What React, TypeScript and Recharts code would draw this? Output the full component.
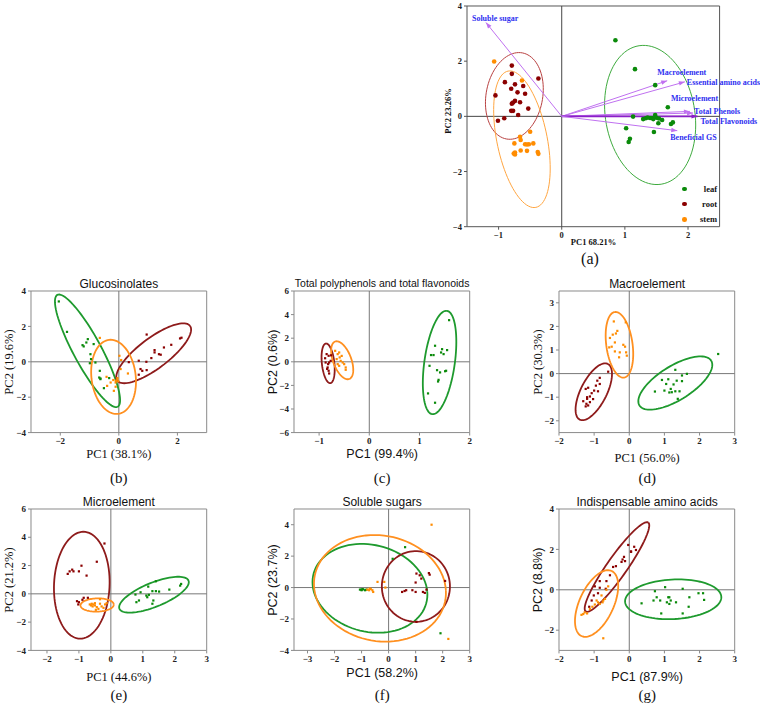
import React from "react";
import { ScatterChart, Scatter, XAxis, YAxis, ReferenceLine, ReferenceArea } from "recharts";

type Pt = [number, number];
// ellipse: [cx, cy, ux, uy, vx, vy] -> centre plus two conjugate semi-axes (data units)
type Ell = [number, number, number, number, number, number];

// ---------- (a) biplot ----------
const aLeaf: Pt[] = [[0.85, 2.76], [1.16, 1.71], [1.48, 1.13], [1.68, 0.33], [1.13, -0.01], [1.29, -0.1], [1.33, -0.07], [1.4, -0.06], [1.43, -0.06], [1.48, 0.05], [1.5, -0.05], [1.54, -0.08], [1.59, -0.13], [1.53, -0.25], [1.73, -0.28], [1.76, -0.22], [1.02, -0.43], [1.46, -0.57], [1.08, -0.81], [1.06, -0.93], [1.36, -0.04], [1.45, -0.1]];
const aRoot: Pt[] = [[-0.79, 1.84], [-0.79, 1.54], [-0.9, 1.24], [-0.74, 1.16], [-0.61, 1.1], [-0.8, 1.0], [-0.7, 0.87], [-0.58, 0.82], [-0.37, 1.37], [-1.05, 0.76], [-0.74, 0.56], [-0.77, 0.5], [-0.79, 0.46], [-0.66, 0.51], [-0.53, 0.28], [-0.8, 0.2], [-0.77, 0.2], [-0.69, 0.05], [-0.91, -0.07], [-1.01, -0.16]];
const aStem: Pt[] = [[-1.07, 1.99], [-0.63, 1.3], [-0.5, -0.56], [-0.66, -0.74], [-0.65, -0.86], [-0.75, -0.98], [-0.58, -1.01], [-0.55, -1.02], [-0.52, -1.01], [-0.45, -0.98], [-0.65, -1.24], [-0.55, -1.25], [-0.74, -1.31], [-0.76, -1.35], [-0.74, -1.38], [-0.38, -1.29], [-0.37, -1.36]];
const aEllipses: Ell[] = [[1.4, 0.05, -0.175, 2.51, 0.7, 0.25], [-0.75, 0.74, 0.127, 1.56, 0.44, -0.19], [-0.63, -0.83, 0.22, -2.47, 0.39, 0.18]];
const aLoadingNames = ["Soluble sugar", "Macroelement", "Essential amino acids", "Microelement", "Total Phenols", "Total Flavonoids", "Beneficial GS"];
const aLoadings: Pt[] = [[-1.2, 3.4], [1.67, 1.29], [1.95, 1.25], [2.03, 0.18], [2.08, 0.12], [2.15, 0.0], [1.83, -0.52]];
const groupNames = ["leaf", "root", "stem"];

// ---------- (b) Glucosinolates ----------
const bLeaf: Pt[] = [[-2.05, 3.41], [-1.77, 1.69], [-1.24, 0.94], [-1.2, 0.87], [-1.06, 1.28], [-1.11, 1.09], [-0.86, 1.0], [-0.97, 0.43], [-0.95, 0.15], [-0.8, -0.04], [-0.99, -0.08], [-0.65, -0.51], [-0.67, -0.89], [-0.63, -0.98], [-0.33, -0.92], [-0.63, -0.94], [-0.51, -1.49]];
const bRoot: Pt[] = [[0.95, 1.54], [2.14, 1.36], [2.09, 1.32], [1.54, 0.81], [1.79, 0.96], [1.22, 0.66], [1.22, 0.53], [1.37, 0.43], [1.43, 0.4], [1.11, 0.21], [0.68, 0.06], [0.94, 0], [0.74, -0.41], [0.8, -0.51], [0.95, -0.47], [0.68, -0.73], [0.34, -0.02]];
const bStem: Pt[] = [[-0.65, 1.35], [0.02, 0.34], [0.08, 0.1], [-0.05, -0.92], [-0.1, -1.07], [-0.19, -1.03], [-0.11, -1.17], [-0.05, -1.0], [0.31, -0.66], [-0.28, -1.17], [-0.4, -1.36], [-0.11, -1.41], [-0.17, -1.64], [-0.42, -0.85], [0.06, -0.41], [-0.02, -1.1]];
const bEllipses: Ell[] = [[-1.07, 0.62, 1.03, -3.16, 0.42, 0.37], [1.19, 0.48, 1.24, 1.55, 0.31, -0.68], [-0.18, -0.85, 0.154, -2.09, 0.75, 0.15]];

// ---------- (c) Total polyphenols and total flavonoids ----------
const cLeaf: Pt[] = [[1.59, 3.53], [1.31, 1.36], [1.23, 0.57], [1.28, 0.57], [1.45, 1.07], [1.43, 0.79], [1.48, 0.65], [1.55, 0.99], [1.2, -0.34], [1.35, -0.71], [1.41, -0.9], [1.53, -0.76], [1.51, -0.8], [1.38, -1.53], [1.37, -1.67], [1.17, -2.68], [1.31, -3.47]];
const cRoot: Pt[] = [[-0.85, 0.65], [-0.81, 0.51], [-0.87, -0.06], [-0.8, -0.06], [-0.77, 0.08], [-0.83, -0.48], [-0.81, -0.76], [-0.8, -0.99], [-0.84, -0.6], [-0.88, 0.3], [-0.76, 0.55], [-0.82, -0.2]];
const cStem: Pt[] = [[-0.68, 0.93], [-0.63, 0.65], [-0.6, 0.79], [-0.65, 0.23], [-0.59, 0.37], [-0.57, 0.08], [-0.53, -0.06], [-0.5, -0.2], [-0.47, -0.48], [-0.47, -0.68], [-0.6, -0.34], [-0.63, -0.2], [-0.55, 0.5]];
const cEllipses: Ell[] = [[1.4, -0.06, 0.146, 4.38, 0.3, -0.18], [-0.82, -0.13, -0.04, 1.68, 0.125, 0.01], [-0.54, 0.13, -0.14, 1.59, 0.17, 0.26]];

// ---------- (d) Macroelement ----------
const dLeaf: Pt[] = [[2.53, 0.83], [1.31, 0.16], [1.64, -0.01], [1.5, -0.08], [0.93, -0.27], [1.11, -0.24], [1.35, -0.3], [1.5, -0.32], [1.05, -0.44], [1.26, -0.46], [1.0, -0.72], [1.18, -0.65], [1.21, -0.79], [1.31, -0.75], [1.43, -0.75], [0.73, -0.76], [1.14, -0.8], [1.38, -1.07]];
const dRoot: Pt[] = [[-0.6, 0.08], [-0.84, -0.18], [-0.91, -0.3], [-1.24, -0.65], [-1.17, -0.6], [-0.95, -0.51], [-0.84, -0.44], [-1.07, -0.83], [-1.0, -0.72], [-0.89, -0.75], [-1.2, -1.0], [-1.2, -1.07], [-1.12, -0.97], [-1.03, -1.08], [-1.12, -1.21], [-1.22, -1.28], [-1.17, -1.35], [-1.24, -1.39], [-1.31, -1.17]];
const dStem: Pt[] = [[-0.44, 2.21], [-0.34, 1.81], [-0.38, 1.7], [-0.47, 1.65], [-0.1, 2.17], [-0.55, 1.51], [-0.41, 1.32], [-0.57, 1.11], [-0.5, 1.14], [-0.17, 1.22], [-0.12, 1.14], [-0.41, 0.94], [-0.27, 0.9], [-0.09, 0.9], [-0.07, 0.76], [-0.29, 0.69]];
const dEllipses: Ell[] = [[1.31, -0.4, 1.02, 0.95, 0.26, -0.61], [-1.01, -0.77, 0.4, 1.18, 0.33, -0.245], [-0.28, 1.22, -0.13, 1.39, 0.37, 0.075]];

// ---------- (e) Microelement ----------
const eLeaf: Pt[] = [[1.41, 0.89], [1.17, 0.51], [2.2, 0.7], [2.17, 0.58], [1.83, 0.3], [1.51, 0.16], [1.41, 0.19], [1.3, 0.19], [1.11, -0.12], [1.19, -0.07], [1.14, -0.24], [0.77, -0.05], [0.88, -0.47], [0.8, -0.59], [1.33, -0.47], [1.3, -0.7], [0.93, 0.11]];
const eRoot: Pt[] = [[-0.2, 3.56], [-0.44, 2.27], [-0.92, 1.99], [-1.21, 1.71], [-1.17, 1.59], [-1.29, 1.59], [-1.35, 1.41], [-1.0, 1.59], [-0.76, 1.29], [-1.06, -0.52], [-1.0, -0.59], [-1.02, -0.75], [-0.89, -0.42], [-0.85, -0.28], [-0.72, -0.28]];
const eStem: Pt[] = [[-0.6, -0.7], [-0.55, -0.75], [-0.5, -0.82], [-0.57, -0.89], [-0.44, -0.94], [-0.34, -0.7], [-0.29, -0.89], [-0.23, -0.99], [-0.39, -1.06], [-0.47, -1.13], [-0.18, -0.75], [-0.66, -0.75], [-0.13, -0.66], [-0.34, -0.38], [-0.5, -0.66], [-0.62, -0.82]];
const eEllipses: Ell[] = [[1.35, -0.06, 1.08, 1.0, 0.15, -0.78], [-0.91, 0.61, 0.05, 3.78, 0.87, 0], [-0.43, -0.79, 0.52, 0.03, 0, 0.47]];

// ---------- (f) Soluble sugars ----------
const fLeaf: Pt[] = [[0.61, 2.57], [0.15, 1.83], [1.92, -2.91], [-1.06, -0.13], [-1.0, -0.13], [-0.94, -0.11], [-0.87, -0.17], [-0.82, -0.13], [-1.0, -0.17], [-0.97, -0.1]];
const fRoot: Pt[] = [[1.03, 0.89], [1.15, 0.78], [1.49, 0.92], [1.52, 0.82], [1.21, 0.57], [2.09, 0.42], [1.0, 0.32], [0.5, -0.28], [0.59, -0.22], [0.65, -0.17], [0.88, -0.17], [1.0, -0.28], [1.27, -0.28], [1.34, -0.34], [1.4, -0.13], [1.03, -2.18]];
const fStem: Pt[] = [[1.59, 4.0], [2.21, -3.27], [-0.41, 0.36], [-0.16, 0.36], [-0.6, -0.17], [-0.66, -0.09], [-0.72, -0.17], [-0.79, -0.13], [-0.57, -0.28], [-0.7, -0.07], [-0.12, 0.0]];
const fEllipses: Ell[] = [[-0.69, -0.05, 2.12, -0.2, -0.15, 2.82], [1.01, 0.07, 1.26, 0, 0, 2.25], [-0.32, -0.05, 2.44, -0.15, -0.1, 3.39]];

// ---------- (g) Indispensable amino acids ----------
const gLeaf: Pt[] = [[0.73, -0.07], [1.02, 0.13], [1.52, 0.05], [1.97, -0.17], [2.1, -0.17], [2.13, -0.5], [0.78, -0.37], [0.69, -0.53], [0.35, -0.67], [0.88, -0.53], [1.11, -0.37], [1.18, -0.53], [1.33, -0.62], [1.07, -0.62], [1.14, -0.7], [1.71, -0.37], [1.69, -0.84], [0.91, -1.17], [1.52, -1.17], [1.14, -0.37]];
const gRoot: Pt[] = [[0.14, 2.13], [0.19, 1.97], [0.05, 1.88], [-0.03, 2.22], [-0.15, 1.63], [-0.19, 1.5], [-0.12, 1.42], [-0.22, 1.38], [-0.38, 1.17], [-0.46, 1.13], [-0.55, 0.72], [-0.65, 0.43], [-0.84, 0.43], [-0.98, 0.17], [-0.84, 0.1], [-0.67, 0.05], [-1.01, -0.28], [-0.89, -0.17], [-1.07, -0.53], [-1.14, -0.84], [0.05, 1.9]];
const gStem: Pt[] = [[-1.27, -1.12], [-1.31, -1.2], [-1.2, -1.17], [-1.36, -1.24], [-1.12, -0.95], [-1.05, -0.84], [-0.98, -0.73], [-0.93, -0.53], [-0.89, -0.62], [-0.84, -0.7], [-0.76, -0.62], [-0.74, -0.53], [-0.69, -0.45], [-0.65, 0.0], [-0.6, 0.17], [-0.79, -0.28], [-0.74, -2.4]];
const gEllipses: Ell[] = [[1.25, -0.47, 1.37, 0.1, 0, 0.98], [-0.35, 1.13, 0.89, 2.2, 0.23, -0.29], [-0.93, -0.68, 0.43, 1.61, 0.44, -0.36]];

// ---------- styles ----------
const SERIF = "'Liberation Serif', 'Times New Roman', serif";
const SANS = "'Liberation Sans', Arial, sans-serif";
const dotColors = ["#0A8A0A", "#8B0000", "#FF8C00"];
const ringColors = ["#1E9A2E", "#8E1B1B", "#FF9020"];
const ringColorsA = ["#3DAA3D", "#B84040", "#FFA540"];
const loadingColors = ["#C070F0", "#C070F0", "#C070F0", "#C070F0", "#C070F0", "#8A1FC8", "#C070F0"];
// label offsets relative to arrow tips, in pixels
const loadingLabelOffsets: Pt[] = [[-14, -4], [-10, -9], [2, 0.5], [-19, -13], [1, -2], [3, 5], [-7, 7]];

const toXY = (pts: Pt[]) => pts.map(([x, y]) => ({ x, y }));
const fmt = (v: number) => (v < 0 ? `\u2212${Math.abs(v)}` : `${v}`);

const ellipseOutline = (e: Ell) => {
  const out: { x: number; y: number }[] = [];
  for (let i = 0; i <= 90; i++) {
    const t = (i / 90) * Math.PI * 2;
    out.push({ x: e[0] + e[2] * Math.cos(t) + e[4] * Math.sin(t), y: e[1] + e[3] * Math.cos(t) + e[5] * Math.sin(t) });
  }
  return out;
};

type PanelCfg = {
  plot: [number, number, number, number];
  xDomain: [number, number];
  yDomain: [number, number];
  xTicks: number[];
  yTicks: number[];
  minor?: number[];
  groups: Pt[][];
  ellipses: Ell[];
  big?: boolean;
  rightPad?: number;
};

const Txt = ({ x, y, size, family, bold, rotate, color, children }: any) => (
  <div
    style={{
      position: "absolute",
      left: x,
      top: y,
      transform: `translate(-50%, -50%)${rotate ? " rotate(-90deg)" : ""}`,
      fontSize: size,
      fontFamily: family,
      fontWeight: bold ? "bold" : "normal",
      whiteSpace: "nowrap",
      lineHeight: 1,
      color: color || "#111",
    }}
  >
    {children}
  </div>
);

const AXW = 28;
const AXH = 22;
const TOP = 4;

const Panel = ({ cfg, children }: { cfg: PanelCfg; children?: React.ReactNode }) => {
  const [l, t, r, b] = cfg.plot;
  const right = cfg.rightPad ?? 6;
  const width = r - l + AXW + right;
  const height = b - t + TOP + AXH;
  const frame = cfg.big ? "#555" : "#8a8a8a";
  const tickStyle = { fontSize: cfg.big ? 8.5 : 9, fontFamily: SERIF, fontWeight: "bold", fill: "#222" };
  return (
    <div style={{ position: "absolute", left: l - AXW, top: t - TOP }}>
      <ScatterChart width={width} height={height} margin={{ top: TOP, right, left: 0, bottom: 0 }}>
        <XAxis type="number" dataKey="x" domain={cfg.xDomain} ticks={cfg.xTicks} interval={0} height={AXH} axisLine={false} tickLine={{ stroke: frame }} tickSize={3} tick={tickStyle} tickFormatter={fmt} />
        <YAxis type="number" dataKey="y" domain={cfg.yDomain} ticks={cfg.yTicks} interval={0} width={AXW} axisLine={false} tickLine={{ stroke: frame }} tickSize={3} tick={tickStyle} tickFormatter={fmt} />
        {cfg.minor && (
          <YAxis yAxisId="r" orientation="right" type="number" domain={cfg.yDomain} ticks={cfg.minor} interval={0} width={0} mirror axisLine={false} tickLine={{ stroke: frame }} tickSize={3} tick={() => <g />} />
        )}
        <ReferenceArea x1={cfg.xDomain[0]} x2={cfg.xDomain[1]} y1={cfg.yDomain[0]} y2={cfg.yDomain[1]} fill="none" stroke={frame} strokeWidth={1} />
        <ReferenceLine x={0} stroke={cfg.big ? "#444" : "#777"} strokeWidth={1} />
        <ReferenceLine y={0} stroke={cfg.big ? "#444" : "#777"} strokeWidth={1} />
        {cfg.ellipses.map((e, i) => (
          <Scatter
            key={`e${i}`}
            data={ellipseOutline(e)}
            line={{ stroke: cfg.big ? ringColorsA[i] : ringColors[i], strokeWidth: cfg.big ? 1 : 1.8 }}
            shape={() => <g />}
            fill="none"
            legendType="none"
            isAnimationActive={false}
          />
        ))}
        {children}
        {cfg.groups.map((g, i) => (
          <Scatter
            key={`g${i}`}
            name={groupNames[i]}
            data={toXY(g)}
            fill={dotColors[i]}
            isAnimationActive={false}
            shape={(p: any) =>
              cfg.big ? (
                <circle cx={p.cx} cy={p.cy} r={2.3} fill={dotColors[i]} />
              ) : (
                <rect x={p.cx - 1.1} y={p.cy - 1.1} width={2.2} height={2.2} fill={dotColors[i]} />
              )
            }
          />
        ))}
      </ScatterChart>
    </div>
  );
};

const cfgA: PanelCfg = { plot: [466.7, 6, 719.3, 226.7], xDomain: [-1.5, 2.5], yDomain: [-4, 4], xTicks: [-1, 0, 1, 2], yTicks: [-4, -2, 0, 2, 4], groups: [aLeaf, aRoot, aStem], ellipses: aEllipses, big: true, rightPad: 40.7 };
const cfgB: PanelCfg = { plot: [31, 290.7, 206.7, 432.3], xDomain: [-3, 3], yDomain: [-4, 4], xTicks: [-2, 0, 2], yTicks: [-4, -2, 0, 2, 4], minor: [-3, -2, -1, 0, 1, 2, 3], groups: [bLeaf, bRoot, bStem], ellipses: bEllipses };
const cfgC: PanelCfg = { plot: [294.3, 290.7, 470, 432.3], xDomain: [-1.5, 2], yDomain: [-6, 6], xTicks: [-1, 0, 1, 2], yTicks: [-6, -4, -2, 0, 2, 4, 6], minor: [-5, -4, -3, -2, -1, 0, 1, 2, 3, 4, 5], groups: [cLeaf, cRoot, cStem], ellipses: cEllipses };
const cfgD: PanelCfg = { plot: [559.3, 290.7, 735, 432.3], xDomain: [-2, 3], yDomain: [-2.5, 3.5], xTicks: [-2, -1, 0, 1, 2, 3], yTicks: [-2, -1, 0, 1, 2, 3], minor: [-2, -1.5, -1, -0.5, 0, 0.5, 1, 1.5, 2, 2.5, 3], groups: [dLeaf, dRoot, dStem], ellipses: dEllipses };
const cfgE: PanelCfg = { plot: [31, 509.3, 206.7, 650.7], xDomain: [-2.5, 3], yDomain: [-4, 6], xTicks: [-2, -1, 0, 1, 2, 3], yTicks: [-4, -2, 0, 2, 4, 6], minor: [-3, -2, -1, 0, 1, 2, 3, 4, 5], groups: [eLeaf, eRoot, eStem], ellipses: eEllipses };
const cfgF: PanelCfg = { plot: [294.3, 509.3, 470, 650.7], xDomain: [-3.5, 3], yDomain: [-4, 5], xTicks: [-3, -2, -1, 0, 1, 2, 3], yTicks: [-4, -2, 0, 2, 4], minor: [-3, -2, -1, 0, 1, 2, 3, 4], groups: [fLeaf, fRoot, fStem], ellipses: fEllipses };
const cfgG: PanelCfg = { plot: [559.3, 509.3, 735, 650.7], xDomain: [-2, 3], yDomain: [-3, 4], xTicks: [-2, -1, 0, 1, 2, 3], yTicks: [-2, 0, 2, 4], minor: [-2, -1, 0, 1, 2, 3], groups: [gLeaf, gRoot, gStem], ellipses: gEllipses };

// pixels per unit in (a), used to orient arrow heads
const aSx = (cfgA.plot[2] - cfgA.plot[0]) / (cfgA.xDomain[1] - cfgA.xDomain[0]);
const aSy = (cfgA.plot[3] - cfgA.plot[1]) / (cfgA.yDomain[1] - cfgA.yDomain[0]);

const arrowTip = (i: number) => (p: any) => {
  if (!p.payload || !p.payload.tip) return <g />;
  const [dx, dy] = aLoadings[i];
  const px = dx * aSx;
  const py = -dy * aSy;
  const len = Math.hypot(px, py) || 1;
  const ux = px / len;
  const uy = py / len;
  const bx = p.cx - ux * 6;
  const by = p.cy - uy * 6;
  const pts = `${p.cx},${p.cy} ${bx - uy * 2.2},${by + ux * 2.2} ${bx + uy * 2.2},${by - ux * 2.2}`;
  const [ox, oy] = loadingLabelOffsets[i];
  return (
    <g>
      <polygon points={pts} fill={loadingColors[i]} />
      <text x={p.cx + ox} y={p.cy + oy} dy="0.35em" fontSize={8} fontFamily={SERIF} fontWeight="bold" fill="#3030F0">
        {aLoadingNames[i]}
      </text>
    </g>
  );
};

const sideTexts = [
  { cfg: cfgB, title: "Glucosinolates", tSize: 12, tY: 284, xl: "PC1 (38.1%)", yl: "PC2 (19.6%)", fam: SERIF, xlY: 454, ylX: 9, tag: "(b)", tagY: 478 },
  { cfg: cfgC, title: "Total polyphenols and total flavonoids", tSize: 10.5, tY: 283, xl: "PC1 (99.4%)", yl: "PC2 (0.6%)", fam: SANS, xlY: 454, ylX: 272.5, tag: "(c)", tagY: 478 },
  { cfg: cfgD, title: "Macroelement", tSize: 12, tY: 284, xl: "PC1 (56.0%)", yl: "PC2 (30.3%)", fam: SERIF, xlY: 458, ylX: 537.5, tag: "(d)", tagY: 478 },
  { cfg: cfgE, title: "Microelement", tSize: 12, tY: 502, xl: "PC1 (44.6%)", yl: "PC2 (21.2%)", fam: SERIF, xlY: 676.7, ylX: 9, tag: "(e)", tagY: 695 },
  { cfg: cfgF, title: "Soluble sugars", tSize: 12, tY: 502, xl: "PC1 (58.2%)", yl: "PC2 (23.7%)", fam: SANS, xlY: 673.3, ylX: 273.3, tag: "(f)", tagY: 695 },
  { cfg: cfgG, title: "Indispensable amino acids", tSize: 12, tY: 502, xl: "PC1 (87.9%)", yl: "PC2 (8.8%)", fam: SANS, xlY: 676.7, ylX: 538.3, tag: "(g)", tagY: 695 },
];

export default function App() {
  return (
    <div style={{ position: "absolute", left: 0, top: 0, width: 760, height: 708, background: "#fff", overflow: "hidden" }}>
      <Panel cfg={cfgA}>
        {aLoadings.map((l, i) => (
          <Scatter
            key={`l${i}`}
            data={[{ x: 0, y: 0 }, { x: l[0], y: l[1], tip: true }]}
            line={{ stroke: loadingColors[i], strokeWidth: i === 5 ? 1.6 : 1 }}
            shape={arrowTip(i)}
            fill="none"
            legendType="none"
            isAnimationActive={false}
          />
        ))}
      </Panel>
      <Txt x={593.5} y={242} size={8.5} family={SERIF} bold>PC1 68.21%</Txt>
      <Txt x={448} y={111} size={8.5} family={SERIF} bold rotate>PC2 23.26%</Txt>
      <Txt x={590} y={259} size={16} family={SERIF}>(a)</Txt>
      {groupNames.map((n, i) => (
        <React.Fragment key={n}>
          <div style={{ position: "absolute", left: 682, top: 186.7 + i * 15.2, width: 4.6, height: 4.6, borderRadius: "50%", background: dotColors[i] }} />
          <div style={{ position: "absolute", right: 760 - 717, top: 184.5 + i * 15.2, fontSize: 8.5, fontFamily: SERIF, fontWeight: "bold", lineHeight: 1, color: "#111" }}>{n}</div>
        </React.Fragment>
      ))}

      {sideTexts.map((s) => {
        const [l, t, r, b] = s.cfg.plot;
        const cx = (l + r) / 2;
        return (
          <React.Fragment key={s.tag}>
            <Panel cfg={s.cfg} />
            <Txt x={cx} y={s.tY} size={s.tSize} family={SANS}>{s.title}</Txt>
            <Txt x={cx} y={s.xlY} size={12.5} family={s.fam}>{s.xl}</Txt>
            <Txt x={s.ylX} y={(t + b) / 2} size={12.5} family={s.fam} rotate>{s.yl}</Txt>
            <Txt x={cx} y={s.tagY} size={15} family={SERIF}>{s.tag}</Txt>
          </React.Fragment>
        );
      })}
    </div>
  );
}
